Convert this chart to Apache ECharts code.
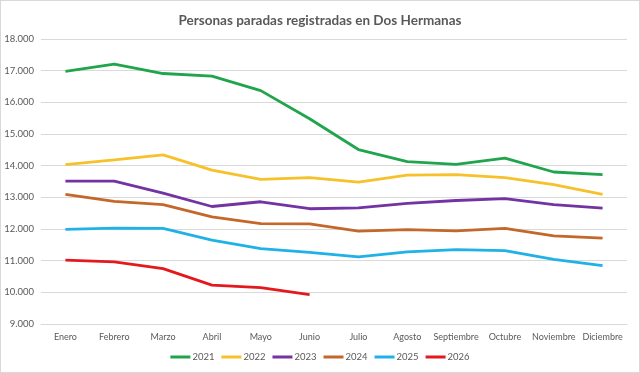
<!DOCTYPE html>
<html>
<head>
<meta charset="utf-8">
<script src="https://cdn.jsdelivr.net/npm/echarts@6/dist/echarts.min.js"></script>
<style>
html,body{margin:0;padding:0;background:#fff;}
#chart{width:640px;height:373px;box-sizing:border-box;border:1px solid #d9d9d9;}
</style>
</head>
<body>
<div id="chart"></div>
<script>
var meses = ['Enero','Febrero','Marzo','Abril','Mayo','Junio','Julio','Agosto','Septiembre','Octubre','Noviembre','Diciembre'];
var anios = ['2021','2022','2023','2024','2025','2026'];
var colores = ['#21a54c','#f6c12b','#7333a3','#c3672b','#20b1e7','#e3191d'];

var d2021 = [16980,17210,16910,16830,16370,15480,14510,14130,14040,14240,13800,13720];
var d2022 = [14030,14180,14340,13860,13570,13620,13480,13700,13720,13620,13400,13090];
var d2023 = [13510,13510,13130,12710,12860,12640,12670,12810,12900,12960,12770,12660];
var d2024 = [13090,12870,12770,12380,12170,12160,11930,11980,11940,12020,11780,11710];
var d2025 = [11990,12030,12020,11650,11380,11260,11120,11280,11350,11320,11040,10840];
var d2026 = [11020,10960,10750,10230,10150,9930];

var datos = [d2021,d2022,d2023,d2024,d2025,d2026];

var myChart = echarts.init(document.getElementById('chart'));

var series = [];
for (var i = 0; i < anios.length; i++) {
	series.push({
		name: anios[i],
		type: 'line',
		data: datos[i],
		symbol: 'none',
		lineStyle: {width: 2.8, color: colores[i]},
		itemStyle: {color: colores[i]}
	});
}

var option = {
	animation: false,
	title: {
		text: 'Personas paradas registradas en Dos Hermanas',
		left: 'center',
		top: 8,
		textStyle: {fontFamily: 'Lato', fontSize: 13.5, fontWeight: 'bold', color: '#595959'}
	},
	legend: {
		bottom: 5,
		itemWidth: 20,
		itemHeight: 3,
		itemGap: 7,
		icon: 'rect',
		textStyle: {fontFamily: 'Lato', fontSize: 9.5, color: '#595959', padding: [0,0,0,-3]},
		data: anios
	},
	grid: {left: 40, right: 12, top: 38, bottom: 48},
	xAxis: {
		type: 'category',
		data: meses,
		boundaryGap: true,
		axisLine: {show: true, lineStyle: {color: '#d9d9d9'}},
		axisTick: {show: false},
		axisLabel: {fontFamily: 'Lato', fontSize: 9, color: '#595959', margin: 9, interval: 0}
	},
	yAxis: {
		type: 'value',
		min: 9000,
		max: 18000,
		interval: 1000,
		axisLine: {show: false},
		axisTick: {show: false},
		splitLine: {lineStyle: {color: '#d9d9d9'}},
		axisLabel: {
			fontFamily: 'Lato', fontSize: 9.5, color: '#595959', margin: 7,
			formatter: function(v){
				return String(v).replace(/\B(?=(\d{3})+(?!\d))/g, '.');
			}
		}
	},
	series: series
};
myChart.setOption(option);
</script>
</body>
</html>
